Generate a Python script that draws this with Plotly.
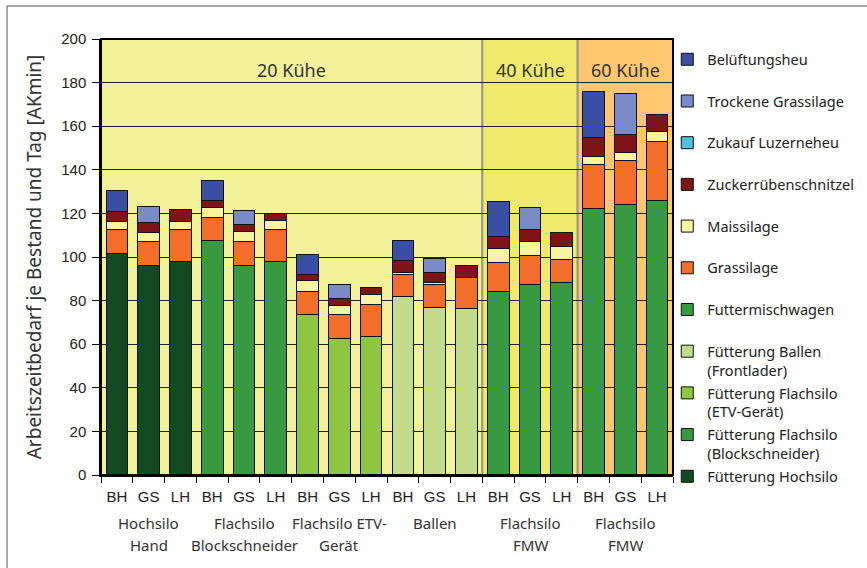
import plotly.graph_objects as go

# ---------------- data ----------------
sub_labels = ["BH", "GS", "LH"] * 6
group_line1 = ["Hochsilo", "Flachsilo", "Flachsilo ETV-", "Ballen", "Flachsilo", "Flachsilo"]
group_line2 = ["Hand", "Blockschneider", "Gerät", "", "FMW", "FMW"]
group_size = 3
herd_labels = ["20 Kühe", "40 Kühe", "60 Kühe"]
herd_counts = [12, 3, 3]
herd_colors = ["#F4F19B", "#F0EA6C", "#FFC870"]

N = None
fuett_hochsilo = [101.5, 96.2, 98.0] + [N] * 15
fuett_block = [N] * 3 + [107.5, 95.9, 98.0] + [N] * 12
fuett_etv = [N] * 6 + [73.7, 62.5, 63.4] + [N] * 9
fuett_ballen = [N] * 9 + [81.8, 76.9, 76.4] + [N] * 6
futtermischwagen = [N] * 12 + [84.1, 87.2, 88.5, 122.3, 124.2, 126.1]
grassilage = [11.0, 10.7, 14.4, 10.8, 11.0, 14.4, 10.7, 10.9, 14.9, 10.4, 10.3, 14.1, 13.3, 13.4, 10.4, 20.2, 20.0, 27.1]
maissilage = [4.0, 4.3, 4.1, 4.5, 4.7, 4.4, 4.6, 4.3, 4.3, 0.9, 1.0, N, 6.3, 6.3, 6.1, 3.5, 3.7, 4.3]
zuckerrueben = [4.6, 4.7, 5.4, 3.0, 3.1, 3.2, 3.0, 3.2, 3.3, 5.5, 4.9, 5.7, 5.9, 5.8, 6.2, 8.7, 8.4, 8.0]
luzerneheu = [N] * 18
trockene_gras = [N, 7.2, N, N, 6.7, N, N, 6.7, N, N, 6.4, N, N, 10.1, N, N, 18.8, N]
belueftungsheu = [9.2, N, N, 9.1, N, N, 9.2, N, N, 8.9, N, N, 15.8, N, N, 21.1, N, N]

# bottom -> top stacking order
series = [
    ("Fütterung Hochsilo", fuett_hochsilo, "#124A24"),
    ("Fütterung Flachsilo<br>(Blockschneider)", fuett_block, "#389943"),
    ("Fütterung Flachsilo<br>(ETV-Gerät)", fuett_etv, "#8FC641"),
    ("Fütterung Ballen<br>(Frontlader)", fuett_ballen, "#C3DC8C"),
    ("Futtermischwagen", futtermischwagen, "#389943"),
    ("Grassilage", grassilage, "#F26E2B"),
    ("Maissilage", maissilage, "#F8F4A0"),
    ("Zuckerrübenschnitzel", zuckerrueben, "#7F1416"),
    ("Zukauf Luzerneheu", luzerneheu, "#4FC3D9"),
    ("Trockene Grassilage", trockene_gras, "#7A8CC8"),
    ("Belüftungsheu", belueftungsheu, "#3A4FA3"),
]

x = list(range(len(sub_labels)))

fig = go.Figure()
for i, (name, vals, col) in enumerate(series):
    label = name if "<br>" in name else name + "<br>\u00a0"
    fig.add_trace(go.Bar(
        x=x, y=vals, name=label, legendgroup=f"g{i}", legendrank=100 - i,
        marker=dict(color=col, line=dict(color="#111111", width=1)),
        width=0.68, hoverinfo="skip",
    ))

# herd background bands
shapes = []
annotations = []
start = 0
for lab, cnt, col in zip(herd_labels, herd_counts, herd_colors):
    shapes.append(dict(type="rect", xref="x", yref="y", x0=start - 0.5, x1=start + cnt - 0.5,
                       y0=0, y1=200, fillcolor=col, line=dict(color="#9A9A8A", width=2), layer="below"))
    annotations.append(dict(x=start + (cnt - 1) / 2, y=186, xref="x", yref="y", text=lab, showarrow=False,
                            font=dict(family="Noto Sans", size=18, color="#333333")))
    start += cnt

# group labels under the axis
for g, (l1, l2) in enumerate(zip(group_line1, group_line2)):
    cx = g * group_size + (group_size - 1) / 2
    annotations.append(dict(x=cx, y=-0.110, xref="x", yref="paper", text=l1, showarrow=False,
                            yanchor="middle", font=dict(family="Noto Sans", size=15, color="#333333")))
    if l2:
        annotations.append(dict(x=cx, y=-0.161, xref="x", yref="paper", text=l2, showarrow=False,
                                yanchor="middle", font=dict(family="Noto Sans", size=15, color="#333333")))

# plot frame and outer border
shapes.append(dict(type="rect", xref="paper", yref="paper", x0=0, x1=1, y0=0, y1=1,
                   line=dict(color="#000000", width=2), fillcolor="rgba(0,0,0,0)", layer="above"))
shapes.append(dict(type="rect", xref="paper", yref="paper", x0=-0.1643, x1=1.40, y0=-0.25, y1=1.0757,
                   line=dict(color="#555555", width=1), fillcolor="rgba(0,0,0,0)", layer="above"))

boundaries = [i - 0.5 for i in range(len(sub_labels) + 1)]

fig.update_layout(
    width=867, height=568,
    margin=dict(l=101, r=194, t=39, b=93, autoexpand=False),
    paper_bgcolor="white", plot_bgcolor="white",
    barmode="stack", bargap=0.32,
    shapes=shapes, annotations=annotations,
    showlegend=True,
    legend=dict(x=0.99, xanchor="left", y=0.99, yanchor="top", traceorder="grouped",
                tracegroupgap=1, valign="top", bgcolor="rgba(0,0,0,0)", maxheight=560,
                font=dict(family="Noto Sans", size=14.5, color="#222222"), itemclick=False),
    xaxis=dict(range=[-0.5, len(sub_labels) - 0.5], tickmode="array", tickvals=x, ticktext=sub_labels,
               ticks="outside", ticklen=7, tickcolor="rgba(0,0,0,0)",
               tickfont=dict(family="Liberation Sans", size=15, color="#222222"),
               showline=True, linecolor="#000000", linewidth=1.5, showgrid=False, zeroline=False,
               automargin=False,
               minor=dict(tickmode="array", tickvals=boundaries, ticks="outside", ticklen=6,
                          tickcolor="#000000", tickwidth=1, showgrid=False)),
    yaxis=dict(range=[0, 200], dtick=20, tick0=0, ticks="outside", ticklen=7, tickcolor="#000000",
               ticklabelstandoff=3,
               tickfont=dict(family="Liberation Sans", size=15, color="#222222"),
               showline=True, linecolor="#000000", linewidth=1.5,
               showgrid=True, gridcolor="#222222", gridwidth=1, zeroline=False, automargin=False,
               title=dict(text="Arbeitszeitbedarf je Bestand und Tag [AKmin]", standoff=15,
                          font=dict(family="Noto Sans", size=19, color="#333333"))),
)

fig.write_html("out.html", config={"displayModeBar": False},
               post_script="document.body.style.margin='0px';")
